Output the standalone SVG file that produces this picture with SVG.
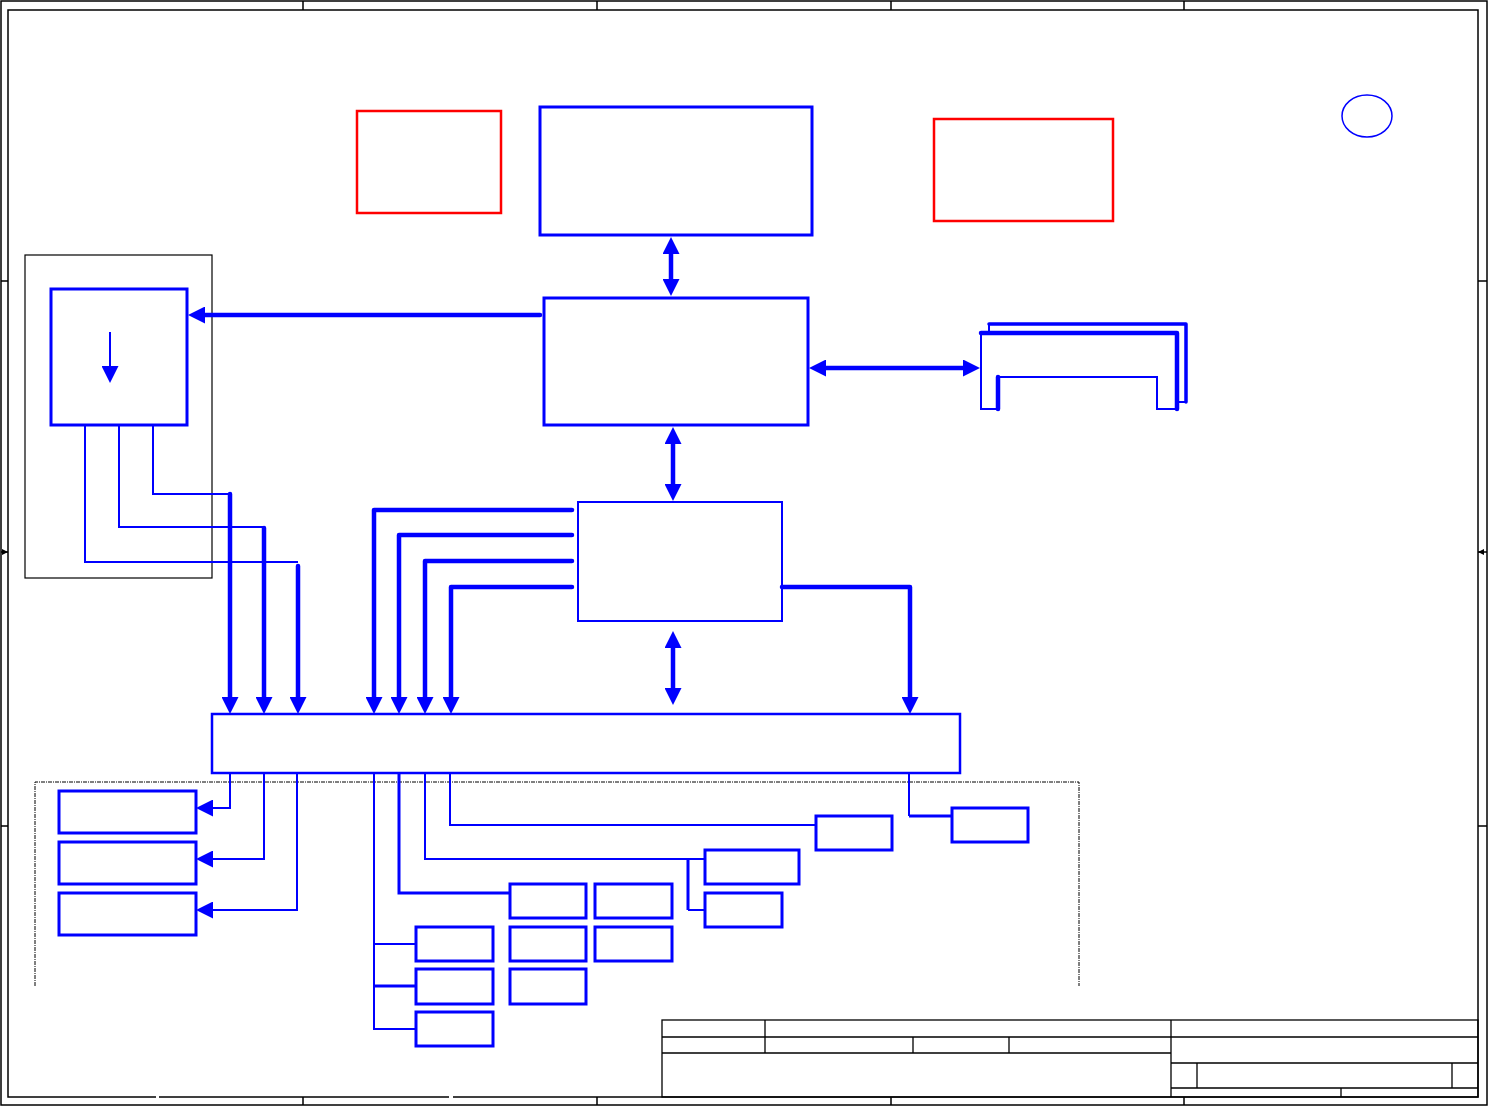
<svg xmlns="http://www.w3.org/2000/svg" width="1488" height="1106" viewBox="0 0 1488 1106">
<defs>
<style>
.frame{fill:none;stroke:#000;stroke-width:1.5}
.tb{fill:none;stroke:#000;stroke-width:1.3}
.node{fill:none;stroke:#0000ff;stroke-width:3}
.nodethin{fill:none;stroke:#0000ff;stroke-width:2}
.red{fill:none;stroke:#ff0000;stroke-width:2.5}
.bus{fill:none;stroke:#0000ff;stroke-width:4.5;stroke-linecap:round;stroke-linejoin:round}
.wire{fill:none;stroke:#0000ff;stroke-width:2}
.wire3{fill:none;stroke:#0000ff;stroke-width:3}
.arr{marker-end:url(#ah)}
.darr{marker-start:url(#ah);marker-end:url(#ah)}
</style>
<marker id="ah" viewBox="0 0 17 17" markerWidth="17" markerHeight="17" refX="9" refY="8.5" orient="auto-start-reverse" markerUnits="userSpaceOnUse"><path d="M0,0L17,8.5L0,17z" fill="#0000ff"/></marker>
<marker id="fa" viewBox="0 0 6 6" markerWidth="6" markerHeight="6" refX="6" refY="3" orient="auto" markerUnits="userSpaceOnUse"><path d="M0,0L6,3L0,6z" fill="#000"/></marker>
</defs>
<rect width="1488" height="1106" fill="#fff"/>

<g id="frame">
<rect class="frame" x="1" y="1" width="1486" height="1104"/>
<rect class="frame" x="8" y="10" width="1470" height="1087"/>
<path class="frame" d="M303,1V10M597,1V10M891,1V10M1184,1V10M303,1097V1105M597,1097V1105M891,1097V1105M1184,1097V1105M1,281H8M1,826H8M1478,281H1487M1478,826H1487"/>
<path class="frame" d="M1,552H8" marker-end="url(#fa)"/>
<path class="frame" d="M1487,552H1478" marker-end="url(#fa)"/>
<path d="M156,1097H159M449,1097H453" stroke="#fff" stroke-width="2.5"/>
</g>

<g id="title-block">
<rect class="tb" x="662" y="1020" width="816" height="77"/>
<path class="tb" d="M662,1037H1478M662,1053H1171M765,1020V1053M913,1037V1053M1009,1037V1053M1171,1020V1097M1171,1063H1478M1171,1088H1478M1197,1063V1088M1452,1063V1088M1341,1088V1097"/>
</g>

<g id="group-region">
<path d="M35,986V782H1079V986" fill="none" stroke="#000" stroke-width="1" stroke-dasharray="4 1 1 1"/>
</g>
<g id="clock-region"><rect x="25" y="255" width="187" height="323" fill="none" stroke="#000" stroke-width="1.2"/></g>

<g id="note-left"><rect class="red" x="357" y="111" width="144" height="102"/></g>
<g id="note-right"><rect class="red" x="934" y="119" width="179" height="102"/></g>
<g id="rev-mark"><ellipse cx="1367" cy="116" rx="25" ry="21" fill="none" stroke="#0000ff" stroke-width="1.5"/></g>

<g id="cpu"><rect class="node" x="540" y="107" width="272" height="128"/></g>
<g id="northbridge"><rect class="node" x="544" y="298" width="264" height="127"/></g>
<g id="southbridge"><rect class="nodethin" x="578" y="502" width="204" height="119"/></g>
<g id="clock">
<rect class="node" x="51" y="289" width="136" height="136"/>
<path class="wire arr" d="M110,332V375"/>
</g>
<g id="memory">
<path class="wire" d="M998,409H981V333"/>
<path class="bus" d="M981,333H1177V409"/>
<path class="bus" d="M998,409V377"/>
<path class="wire" d="M998,377H1157V409H1177"/>
<path class="wire" d="M989,333V324"/>
<path class="bus" style="stroke-width:3.5" d="M989,324H1186V402"/>
<path class="wire" d="M1175,402H1186"/>
</g>
<g id="pci-bus"><rect fill="none" stroke="#0000ff" stroke-width="2.5" x="212" y="714" width="748" height="59"/></g>

<g id="dev-a"><rect class="node" x="59" y="791" width="137" height="42"/></g>
<g id="dev-b"><rect class="node" x="59" y="842" width="137" height="42"/></g>
<g id="dev-c"><rect class="node" x="59" y="893" width="137" height="42"/></g>
<g id="dev-d1"><rect class="node" x="416" y="927" width="77" height="34"/></g>
<g id="dev-d2"><rect class="node" x="416" y="969" width="77" height="35"/></g>
<g id="dev-d3"><rect class="node" x="416" y="1012" width="77" height="34"/></g>
<g id="dev-e1"><rect class="node" x="510" y="884" width="76" height="34"/></g>
<g id="dev-e2"><rect class="node" x="595" y="884" width="77" height="34"/></g>
<g id="dev-e3"><rect class="node" x="510" y="927" width="76" height="34"/></g>
<g id="dev-e4"><rect class="node" x="595" y="927" width="77" height="34"/></g>
<g id="dev-e5"><rect class="node" x="510" y="969" width="76" height="35"/></g>
<g id="dev-f1"><rect class="node" x="705" y="850" width="94" height="34"/></g>
<g id="dev-f2"><rect class="node" x="705" y="893" width="77" height="34"/></g>
<g id="dev-g"><rect class="node" x="816" y="816" width="76" height="34"/></g>
<g id="dev-h"><rect class="node" x="952" y="808" width="76" height="34"/></g>

<g id="connectors">
<path class="bus darr" d="M671,245V288"/>
<path class="bus darr" d="M673,435V493"/>
<path class="bus darr" d="M673,639V697"/>
<path class="bus arr" d="M540,315H196"/>
<path class="bus darr" d="M817,368H972"/>

<path class="wire" d="M153,425V494H230"/>
<path class="bus arr" d="M230,494V706"/>
<path class="wire" d="M119,425V527H264"/>
<path class="bus arr" d="M264,528V706"/>
<path class="wire" d="M85,425V562H298"/>
<path class="bus arr" d="M298,566V706"/>

<path class="bus arr" d="M572,510H374V706"/>
<path class="bus arr" d="M572,535H399V706"/>
<path class="bus arr" d="M572,561H425V706"/>
<path class="bus arr" d="M572,587H451V706"/>
<path class="bus arr" d="M782,587H910V706"/>

<path class="wire arr" d="M230,774V808H204"/>
<path class="wire arr" d="M264,774V859H204"/>
<path class="wire arr" d="M297,774V910H204"/>

<path class="wire" d="M374,774V1029H416M374,944H416"/>
<path class="wire3" d="M374,986H416"/>
<path class="wire3" d="M399,774V893H510"/>
<path class="wire" d="M425,774V859H705M688,910H705"/>
<path class="wire3" d="M688,859V910"/>
<path class="wire" d="M450,774V825H816"/>
<path class="wire" d="M909,774V816"/>
<path class="wire3" d="M909,816H952"/>
</g>
</svg>
